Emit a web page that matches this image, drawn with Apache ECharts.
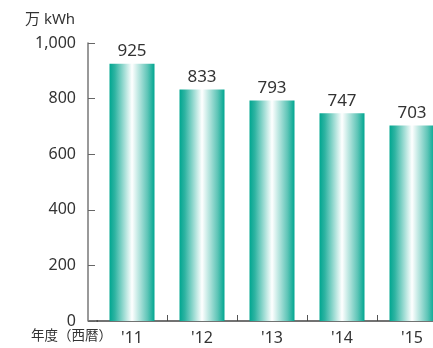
<!DOCTYPE html>
<html><head><meta charset="utf-8">
<script src="https://cdn.jsdelivr.net/npm/echarts@6/dist/echarts.min.js"></script>
<style>html,body{margin:0;padding:0;background:#fff}#c{width:433px;height:348px}</style>
</head><body><div id="c"></div>
<script>
var categories = ["'11", "'12", "'13", "'14", "'15"];
var values = [925, 833, 793, 747, 703];
var yTicks = [0, 200, 400, 600, 800, 1000];
var unitLabel = "万 kWh";
var xAxisTitle = "年度（西暦）";

var chart = echarts.init(document.getElementById('c'), null, {renderer: 'canvas'});
var font = '"Noto Sans", "Noto Sans CJK JP", sans-serif';
var teal = '#00a690';
var baseGraphic = [
  {type: 'text', left: 25, top: 12, style: {text: unitLabel, fill: '#333', font: '15px ' + font}},
  {type: 'text', left: 31, top: 329, style: {text: xAxisTitle, fill: '#333', font: '13.5px ' + font}},
  {type: 'line', shape: {x1: 88, y1: 321, x2: 98, y2: 321}, style: {stroke: '#444', lineWidth: 1.5}}
];
chart.setOption({
  animation: false,
  grid: {left: 97, right: -14, top: 43, bottom: 27, containLabel: false, outerBoundsMode: 'none'},
  xAxis: {
    type: 'category', data: categories,
    axisLine: {show: true, lineStyle: {color: '#444', width: 1.5}},
    axisTick: {show: false},
    axisLabel: {color: '#333', fontSize: 16, fontFamily: font, margin: 9}
  },
  yAxis: {
    type: 'value', min: yTicks[0], max: yTicks[yTicks.length - 1], interval: 200,
    offset: 9,
    splitLine: {show: false},
    axisLine: {show: true, lineStyle: {color: '#777', width: 1.5}},
    axisTick: {show: true, inside: true, length: 7, lineStyle: {color: '#666'}},
    axisLabel: {color: '#333', fontSize: 16, fontFamily: font, margin: 12,
      formatter: function (v) { return v.toLocaleString('en-US'); }}
  },
  graphic: baseGraphic,
  series: [{
    type: 'bar', data: values, barWidth: 45,
    itemStyle: {color: new echarts.graphic.LinearGradient(0, 0, 1, 0, [
      {offset: 0, color: teal}, {offset: 0.12, color: '#2fb4a2'}, {offset: 0.5, color: '#ffffff'},
      {offset: 0.85, color: '#5cc4b6'}, {offset: 1, color: teal}
    ])},
    label: {show: true, position: 'top', distance: 4, color: '#333', fontSize: 17, fontFamily: font}
  }]
});

// category-boundary ticks (between bars), positioned through the axis scales
var y0 = chart.convertToPixel({yAxisIndex: 0}, yTicks[0]);
var tickLines = [];
for (var i = 1; i < categories.length; i++) {
  var a = chart.convertToPixel({xAxisIndex: 0}, i - 1);
  var b = chart.convertToPixel({xAxisIndex: 0}, i);
  var xm = Math.round((a + b) / 2) + 0.5;
  tickLines.push({type: 'line', shape: {x1: xm, y1: y0, x2: xm, y2: y0 - 6},
    style: {stroke: '#555', lineWidth: 1}});
}
chart.setOption({graphic: baseGraphic.concat(tickLines)});
</script></body></html>
